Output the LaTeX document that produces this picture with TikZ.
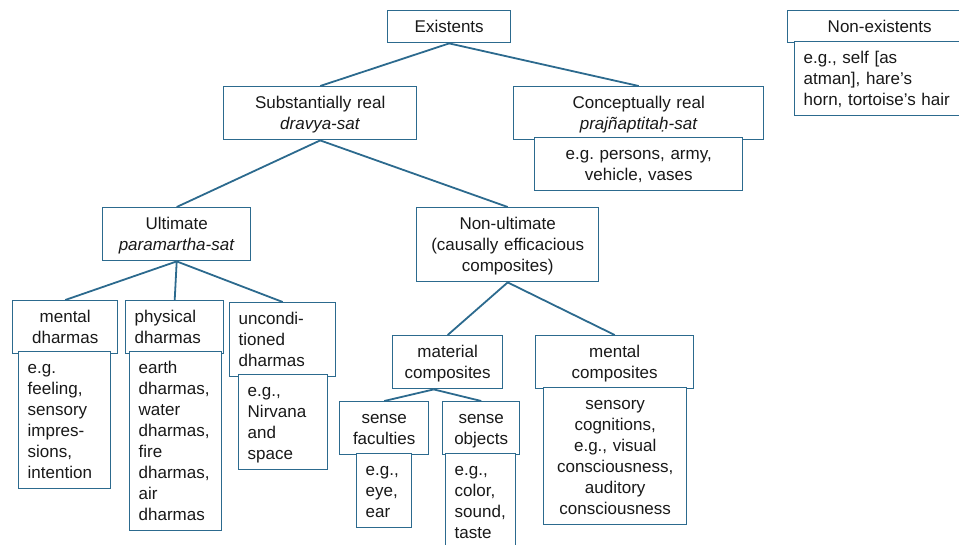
\documentclass[tikz,border=0pt]{standalone}
\usepackage{fontspec}
\setmainfont{Liberation Sans}
\usetikzlibrary{calc}
\definecolor{bline}{RGB}{44,106,142}
\definecolor{txt}{RGB}{25,25,25}
\newcommand\mytopstrut{\rule{0pt}{16.2pt}}
\newcommand\mybotstrut{\rule[-4.8pt]{0pt}{4.8pt}}
\frenchspacing
\begin{document}
\begin{tikzpicture}[x=1pt,y=-1pt,
  font=\fontsize{17}{21}\selectfont\frenchspacing,
  bx/.style={draw=bline, line width=1.4pt, fill=white, inner xsep=9pt, inner ysep=5.5pt,
    anchor=north west, text=txt, text width=#1,
    execute at begin node=\mytopstrut, execute at end node=\mybotstrut},
  bc/.style={bx=#1, align=center},
  bl/.style={bx=#1, align=left},
  link/.style={draw=bline, line width=1.8pt}]
\useasboundingbox (0,0) rectangle (959,544);
% top level
\node[bc=105pt] (exist) at (387,10) {Existents};
\node[bc=175pt] (subst) at (223,86) {Substantially real\\\textit{dravya-sat}};
\node[bc=232pt] (concept) at (513,86) {Conceptually real\\\textit{prajñaptitaḥ-sat}};
\node[bc=190pt] (conceptsub) at (534,137) {e.g. persons, army,\\vehicle, vases};
\node[bc=166pt] (nonex) at (787,10) {Non-existents};
\node[bl=182pt] (nonexsub) at (794,41) {e.g., self [as\\atman], hare’s\\horn, tortoise’s hair};
% second level
\node[bc=130pt] (ult) at (102,207) {Ultimate\\\textit{paramartha-sat}};
\node[bc=164pt] (nonult) at (416,207) {Non-ultimate\\(causally efficacious\\composites)};
% dharmas
\node[bc=87pt] (mentd) at (12,300) {mental\\dharmas};
\node[bl=74pt] (mentdsub) at (18,351) {e.g.\\feeling,\\sensory\\impres-\\sions,\\intention};
\node[bl=80pt] (physd) at (125,300) {physical\\dharmas};
\node[bl=74pt] (physdsub) at (129,351) {earth\\dharmas,\\water\\dharmas,\\fire\\dharmas,\\air\\dharmas};
\node[bl=88pt] (uncond) at (229,302) {uncondi-\\tioned\\dharmas};
\node[bl=71pt] (uncondsub) at (238,374) {e.g.,\\Nirvana\\and\\space};
% composites
\node[bc=92pt] (matc) at (392,335) {material\\composites};
\node[bc=140pt] (mentc) at (535,335) {mental\\composites};
\node[bc=125pt] (mentcsub) at (543,387) {sensory\\cognitions,\\e.g., visual\\consciousness,\\auditory\\consciousness};
\node[bc=71pt] (sfac) at (339,401) {sense\\faculties};
\node[bl=37pt] (sfacsub) at (356,453) {e.g.,\\eye,\\ear};
\node[bc=59pt] (sobj) at (442,401) {sense\\objects};
\node[bl=52pt] (sobjsub) at (445,453) {e.g.,\\color,\\sound,\\taste};
% connectors
\coordinate (matj) at ($(matc.south)+(-14,0)$);
\draw[link] (exist.south) -- (subst.north);
\draw[link] (exist.south) -- (concept.north);
\draw[link] (subst.south) -- (ult.north);
\draw[link] (subst.south) -- (nonult.north);
\draw[link] (ult.south) -- (mentd.north);
\draw[link] (ult.south) -- (physd.north);
\draw[link] (ult.south) -- (uncond.north);
\draw[link] (nonult.south) -- (matc.north);
\draw[link] (nonult.south) -- (mentc.north);
\draw[link] (matj) -- (sfac.north);
\draw[link] (matj) -- (sobj.north);
\end{tikzpicture}
\end{document}
